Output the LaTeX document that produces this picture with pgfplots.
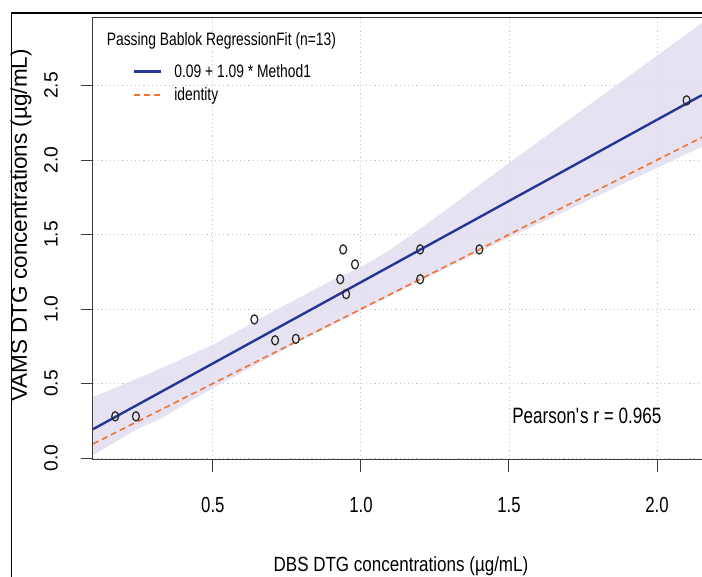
\documentclass[border=0pt]{standalone}
\usepackage{fontspec}
\setmainfont{Liberation Sans}
\newfontfamily\narrowfont{Liberation Sans}[FakeStretch=0.77]
\newfontfamily\xlabfont{Liberation Sans}[FakeStretch=0.83]
\usepackage{pgfplots}
\pgfplotsset{compat=1.18}
\definecolor{bandfill}{RGB}{226,221,238}
\definecolor{regblue}{RGB}{38,54,150}
\definecolor{idorange}{RGB}{240,115,50}
\definecolor{gridgray}{RGB}{200,200,200}
\definecolor{spine}{RGB}{60,60,60}

\begin{document}
\begin{tikzpicture}
\useasboundingbox (0pt,0pt) rectangle (702pt,577pt);
\draw[line width=1.6pt, black] (11.5pt,0pt) -- (11.5pt,564pt) -- (702pt,564pt);
\begin{axis}[
  at={(93pt,117pt)}, anchor=south west,
  scale only axis, width=609pt, height=442pt,
  xmin=0.095, xmax=2.152, ymin=-0.013, ymax=2.953,
  axis line style={draw=none},
  clip=false,
  xtick={0.5,1.0,1.5,2.0}, xticklabels={0.5,1.0,1.5,2.0},
  ytick={0,0.5,1,1.5,2,2.5}, yticklabels={0.0,0.5,1.0,1.5,2.0,2.5},
  xtick pos=left, ytick pos=left,
  tick align=outside,
  major tick length=12pt,
  tick style={spine, line width=1pt},
  grid=major,
  grid style={gridgray, line width=0.9pt, dash pattern=on 1.2pt off 3pt},
  xticklabel style={font=\narrowfont\fontsize{21.8}{22}\selectfont, anchor=center, yshift=-33pt},
  yticklabel style={font=\fontsize{19.2}{20}\selectfont, xshift=-30pt, rotate=90, anchor=center},
  xlabel={DBS DTG concentrations (µg/mL)},
  xlabel style={font=\xlabfont\fontsize{20.5}{21}\selectfont, at={(axis description cs:0.5057,-0.2398)}, anchor=center},
  ylabel={VAMS DTG concentrations (µg/mL)},
  ylabel style={font=\fontsize{22.5}{23}\selectfont, at={(axis description cs:-0.1182,0.5305)}, anchor=center},
  legend style={draw=none, fill=none, at={(axis description cs:0.0657,0.8954)}, anchor=north west,
    font=\narrowfont\fontsize{18}{19}\selectfont, inner sep=0pt, row sep=8.5pt, column sep=11.7pt,
    nodes={inner sep=0pt}},
  legend cell align=left,
  legend image code/.code={\draw[#1] (0pt,0pt) -- (27pt,0pt);},
]
% confidence band
\addplot[fill=bandfill, fill opacity=0.85, draw=none, forget plot] coordinates {
  (0.095,0.41) (0.3,0.58) (0.5,0.76) (0.7,0.98) (0.9,1.19) (1.0,1.28) (1.1,1.40)
  (1.25,1.61) (1.5,1.98) (1.75,2.34) (2.0,2.70) (2.152,2.92)
  (2.152,2.09) (1.8,1.76) (1.4,1.385) (1.0,0.99) (0.8,0.79) (0.5,0.47)
  (0.32,0.26) (0.25,0.20) (0.095,0.02)
} -- cycle;
% regression line
\addplot[regblue, line width=2.4pt] coordinates {(0.095,0.19355) (2.152,2.43568)};
\addlegendentry{0.09 + 1.09 * Method1}
% identity
\addplot[idorange, line width=1.6pt, dash pattern=on 6pt off 4pt] coordinates {(0.095,0.095) (2.152,2.152)};
\addlegendentry{identity}
% data points
\addplot[only marks, mark=o, mark size=4.6pt, mark options={xscale=0.75, line width=1.25pt, draw=black!85}, forget plot] coordinates {
  (0.17,0.28) (0.24,0.28) (0.64,0.93) (0.71,0.79) (0.78,0.80) (0.93,1.20) (0.94,1.40)
  (0.95,1.10) (0.98,1.30) (1.20,1.40) (1.20,1.20) (1.40,1.40) (2.10,2.40)
};
% spines
\draw[spine, line width=1pt] (rel axis cs:1,1) -- (rel axis cs:0,1) -- (rel axis cs:0,0) -- (rel axis cs:1,0);
% annotations
\node[font=\narrowfont\fontsize{18}{19}\selectfont, anchor=west] at (axis description cs:0.0169,0.9486) {Passing Bablok RegressionFit (n=13)};
\node[font=\narrowfont\fontsize{22.2}{23}\selectfont, anchor=center] at (axis cs:1.763,0.28) {Pearson\textquotesingle s r = 0.965};
\end{axis}
\end{tikzpicture}
\end{document}
